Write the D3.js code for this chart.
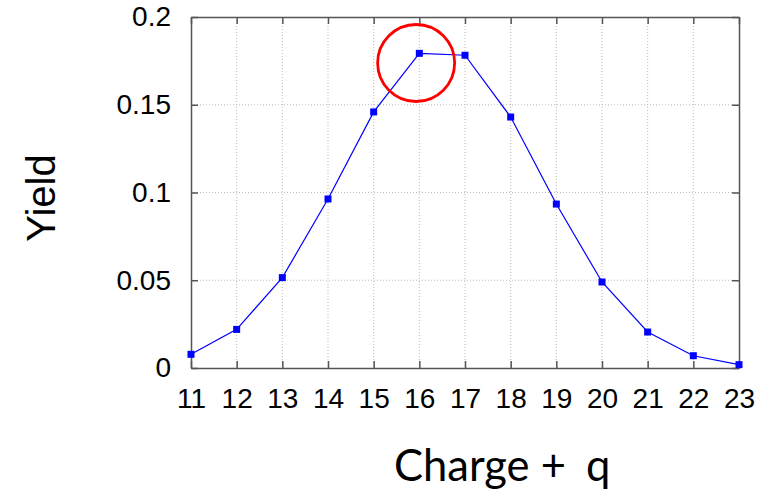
<!DOCTYPE html>
<html>
<head>
<meta charset="utf-8">
<script src="https://cdn.jsdelivr.net/npm/d3@7"></script>
<style>
body { margin: 0; background: #fff; }
</style>
</head>
<body>
<div id="chart"></div>
<script>
var w = 769;
var h = 497;

var charges = [11, 12, 13, 14, 15, 16, 17, 18, 19, 20, 21, 22, 23];
var yields = [0.0078, 0.022, 0.0515, 0.0963, 0.1459, 0.1793, 0.1782, 0.143, 0.0934, 0.049, 0.0205, 0.007, 0.0019];
var yTicks = [0, 0.05, 0.1, 0.15, 0.2];
var yTickLabels = ["0", "0.05", "0.1", "0.15", "0.2"];
var highlight = [15.93, 0.1738];

var pLeft = 191, pRight = 739, pTop = 17, pBottom = 368;

var xScale = d3.scaleLinear().domain([11, 23]).range([pLeft, pRight]);
var yScale = d3.scaleLinear().domain([0, 0.2]).range([pBottom, pTop]);

var svg = d3.select("#chart").append("svg")
    .attr("width", w)
    .attr("height", h);

// grid
svg.append("g").selectAll("line")
    .data(charges.slice(1, -1))
    .enter().append("line")
    .attr("x1", function(d) { return xScale(d); })
    .attr("x2", function(d) { return xScale(d); })
    .attr("y1", pTop).attr("y2", pBottom)
    .attr("stroke", "#bbb").attr("stroke-width", 1)
    .attr("stroke-dasharray", "1,2");

svg.append("g").selectAll("line")
    .data(yTicks.slice(1, -1))
    .enter().append("line")
    .attr("y1", function(d) { return yScale(d); })
    .attr("y2", function(d) { return yScale(d); })
    .attr("x1", pLeft).attr("x2", pRight)
    .attr("stroke", "#bbb").attr("stroke-width", 1)
    .attr("stroke-dasharray", "1,2");

// axes
var xAxis = d3.axisBottom(xScale).tickValues(charges).tickFormat(d3.format("d")).tickSizeInner(-7).tickSizeOuter(0).tickPadding(20);
var yAxis = d3.axisLeft(yScale).tickValues(yTicks).tickFormat(function(d, i) { return yTickLabels[i]; }).tickSizeInner(-7).tickSizeOuter(0).tickPadding(20);

var gx = svg.append("g").attr("transform", "translate(0," + pBottom + ")").call(xAxis);
var gy = svg.append("g").attr("transform", "translate(" + pLeft + ",0)").call(yAxis);
var gx2 = svg.append("g").attr("transform", "translate(0," + pTop + ")")
    .call(d3.axisTop(xScale).tickValues(charges).tickFormat("").tickSizeInner(-7).tickSizeOuter(0));
var gy2 = svg.append("g").attr("transform", "translate(" + pRight + ",0)")
    .call(d3.axisRight(yScale).tickValues(yTicks).tickFormat("").tickSizeInner(-7).tickSizeOuter(0));

[gx, gy, gx2, gy2].forEach(function(g) {
    g.attr("font-family", "Liberation Sans, Arial, sans-serif").attr("font-size", 28);
    g.select(".domain").attr("stroke", "#555").attr("stroke-width", 1.5);
    g.selectAll(".tick line").attr("stroke", "#555").attr("stroke-width", 1.5);
    g.selectAll(".tick text").attr("fill", "#000");
});

// line
var pts = charges.map(function(c, i) { return [c, yields[i]]; });
var line = d3.line()
    .x(function(d) { return xScale(d[0]); })
    .y(function(d) { return yScale(d[1]); });

svg.append("path")
    .datum(pts)
    .attr("d", line)
    .attr("fill", "none")
    .attr("stroke", "#0000ff")
    .attr("stroke-width", 1.2);

svg.selectAll("rect.pt")
    .data(pts)
    .enter().append("rect")
    .attr("class", "pt")
    .attr("x", function(d) { return xScale(d[0]) - 3.5; })
    .attr("y", function(d) { return yScale(d[1]) - 3.5; })
    .attr("width", 7)
    .attr("height", 7)
    .attr("fill", "#0000ff");

// highlight circle
svg.append("circle")
    .attr("cx", xScale(highlight[0]))
    .attr("cy", yScale(highlight[1]))
    .attr("r", 38.5)
    .attr("fill", "none")
    .attr("stroke", "#ff0000")
    .attr("stroke-width", 2.8);

// labels
svg.append("text")
    .attr("transform", "translate(55,198) rotate(-90)")
    .attr("text-anchor", "middle")
    .attr("font-family", "Liberation Sans, Arial, sans-serif")
    .attr("font-size", 40)
    .text("Yield");

var xl = svg.append("text")
    .attr("x", 394)
    .attr("y", 481)
    .attr("font-family", "Lato, Open Sans, sans-serif")
    .attr("font-size", 43.5);
xl.append("tspan").text("Charge +");
xl.append("tspan").attr("x", 586).text("q");
</script>
</body>
</html>
